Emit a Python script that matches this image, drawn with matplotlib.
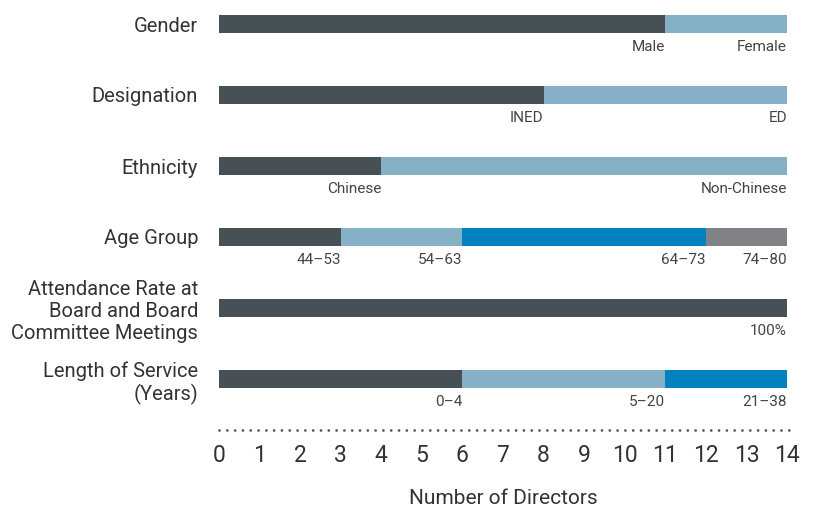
import matplotlib.pyplot as plt

# data
categories = [
    "Gender",
    "Designation",
    "Ethnicity",
    "Age Group",
    "Attendance Rate at\nBoard and Board\nCommittee Meetings",
    "Length of Service\n(Years)",
]
segment_values = [
    [11, 3],
    [8, 6],
    [4, 10],
    [3, 3, 6, 2],
    [14],
    [6, 5, 3],
]
segment_labels = [
    ["Male", "Female"],
    ["INED", "ED"],
    ["Chinese", "Non-Chinese"],
    ["44\u201353", "54\u201363", "64\u201373", "74\u201380"],
    ["100%"],
    ["0\u20134", "5\u201320", "21\u201338"],
]
x_ticks = list(range(0, 15))

COLORS = ["#475155", "#86b0c6", "#0281c1", "#808285"]
TEXT = "#333333"

plt.rcParams["font.family"] = ["Roboto", "DejaVu Sans"]

fig = plt.figure(figsize=(8.14, 5.09), dpi=100)
ax = fig.add_axes([219 / 814, 79 / 509, (787 - 219) / 814, 430 / 509])

for i, (vals, labs) in enumerate(zip(segment_values, segment_labels)):
    left = 0
    for j, (v, lab) in enumerate(zip(vals, labs)):
        ax.barh(i, v, left=left, height=0.255, color=COLORS[j], linewidth=0)
        left += v
        ax.text(left, i + 0.325, lab, ha="right", va="center",
                fontsize=11, color="#444444")

ymax = (430 - 24) / 71
ax.set_xlim(0, 14)
ax.set_ylim(ymax, -24 / 71)
ax.set_yticks(range(len(categories)))
ax.set_yticklabels(categories, fontsize=14.5, color=TEXT, linespacing=1.2)
ax.set_xticks(x_ticks)
ax.set_xticklabels([str(t) for t in x_ticks], fontsize=16.5, color=TEXT)
ax.tick_params(axis="both", length=0)
ax.tick_params(axis="y", pad=15)
ax.tick_params(axis="x", pad=10)

for side in ["top", "right", "left", "bottom"]:
    ax.spines[side].set_visible(False)
# dotted baseline
ax.plot([0, 14.05], [ymax, ymax], color="#555555", linewidth=2,
        linestyle=(0, (0.01, 2.8)), dash_capstyle="round", clip_on=False)

ax.set_xlabel("Number of Directors", fontsize=15, color=TEXT, labelpad=16)

fig.savefig("out.png", dpi=100)
